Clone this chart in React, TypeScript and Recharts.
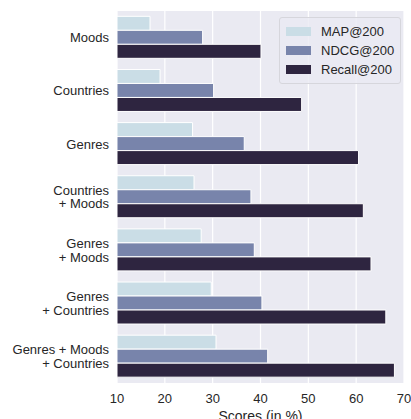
import { Bar, BarChart, CartesianGrid, Legend, XAxis, YAxis } from 'recharts';

// categories, top to bottom
const categories = [
  'Moods',
  'Countries',
  'Genres',
  'Countries\n+ Moods',
  'Genres\n+ Moods',
  'Genres\n+ Countries',
  'Genres + Moods\n+ Countries',
];

const mapScores = [16.9, 19.0, 25.8, 26.1, 27.6, 29.7, 30.7];
const ndcgScores = [27.9, 30.2, 36.6, 38.0, 38.7, 40.3, 41.5];
const recallScores = [40.1, 48.6, 60.5, 61.5, 63.1, 66.2, 68.0];

const xTicks = [10, 20, 30, 40, 50, 60, 70];

const series = [
  { key: 'map', name: 'MAP@200', color: '#cadde6' },
  { key: 'ndcg', name: 'NDCG@200', color: '#7884ab' },
  { key: 'recall', name: 'Recall@200', color: '#2e2540' },
];

const data = categories.map((name, i) => ({
  name,
  map: mapScores[i],
  ndcg: ndcgScores[i],
  recall: recallScores[i],
}));

const FONT = '"Liberation Sans", Arial, sans-serif';

// multi-line category label, right aligned
function CategoryTick(props: any) {
  const { x, y, payload } = props;
  const lines = String(payload.value).split('\n');
  const lineH = 13.5;
  const start = y - ((lines.length - 1) * lineH) / 2;
  return (
    <text x={x} y={start} textAnchor='end' fill='#262626' fontSize={13} fontFamily={FONT}>
      {lines.map((l, i) => (
        <tspan key={i} x={x} y={start + i * lineH} dy='0.36em'>
          {l}
        </tspan>
      ))}
    </text>
  );
}

function LegendBox() {
  return (
    <div
      style={{
        background: 'rgba(234,234,242,0.8)',
        border: '1px solid #d6d6dc',
        borderRadius: 3,
        padding: '4px 6px 4px 6px',
        fontFamily: FONT,
        fontSize: 13,
        color: '#262626',
      }}>
      {series.map((s) => (
        <div key={s.key} style={{ display: 'flex', alignItems: 'center', height: 19 }}>
          <div style={{ width: 25, height: 9, background: s.color, marginRight: 10 }} />
          <span>{s.name}</span>
        </div>
      ))}
    </div>
  );
}

export default function App() {
  return (
    <div style={{ position: 'fixed', left: 0, top: 0, background: '#fff' }}>
      <BarChart
        width={411}
        height={419}
        data={data}
        layout='vertical'
        margin={{ top: 11, right: 7, left: 0, bottom: 0 }}
        barCategoryGap='10%'
        barGap={0}>
        <CartesianGrid horizontal={false} stroke='#ffffff' strokeWidth={1.2} fill='#eaeaf2' fillOpacity={1} />
        <XAxis
          type='number'
          domain={[10, 70]}
          ticks={xTicks}
          axisLine={false}
          tickLine={false}
          height={36}
          tick={{ fill: '#262626', fontSize: 13, fontFamily: FONT }}
          tickMargin={5}
          label={{
            value: 'Scores (in %)',
            position: 'insideBottom',
            offset: -2,
            fill: '#262626',
            fontSize: 14,
            fontFamily: FONT,
          }}
        />
        <YAxis
          type='category'
          dataKey='name'
          width={117}
          axisLine={false}
          tickLine={false}
          tick={<CategoryTick />}
          interval={0}
        />
        <Legend
          layout='vertical'
          verticalAlign='middle'
          align='center'
          content={<LegendBox />}
          wrapperStyle={{ top: 17, left: 279, width: 'auto' }}
        />
        {series.map((s) => (
          <Bar
            key={s.key}
            dataKey={s.key}
            name={s.name}
            fill={s.color}
            stroke='#ffffff'
            strokeWidth={1}
            isAnimationActive={false}
          />
        ))}
      </BarChart>
    </div>
  );
}
